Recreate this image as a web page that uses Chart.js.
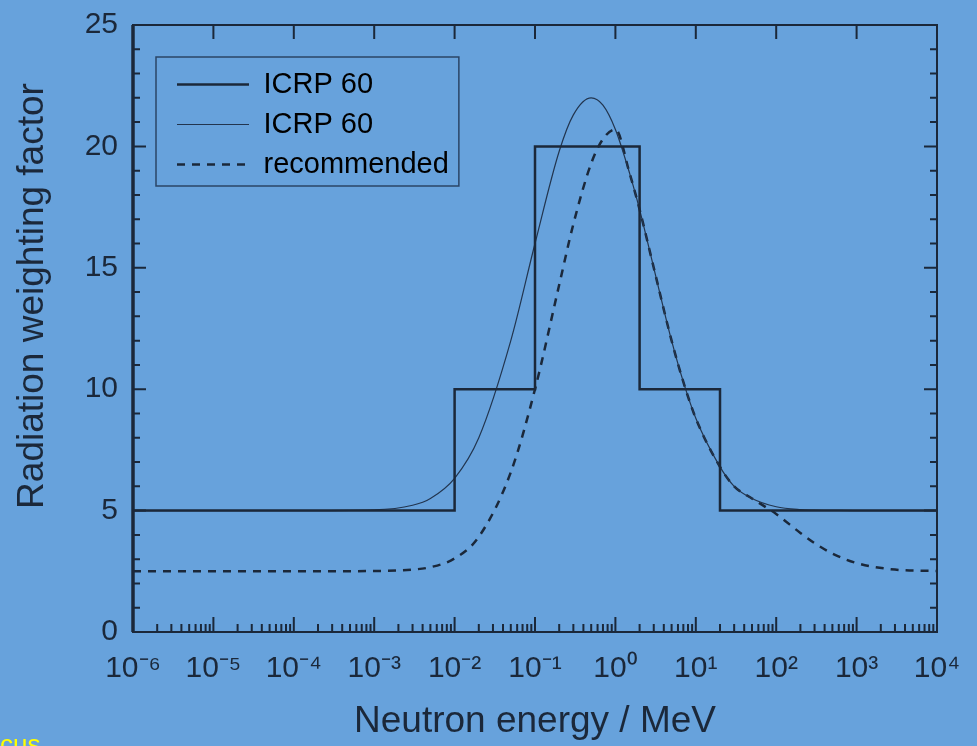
<!DOCTYPE html>
<html>
<head>
<meta charset="utf-8">
<title>Radiation weighting factor</title>
<script src="https://cdn.jsdelivr.net/npm/chart.js@4.4.1/dist/chart.umd.min.js"></script>
<style>
    html, body { margin: 0; padding: 0; overflow: hidden; background: #67a2dc; }
    #wrap { position: relative; width: 977px; height: 746px; }
    #note { position: absolute; left: 0; top: 731px; font: 26px "Liberation Sans", Arial, sans-serif; line-height: 26px; color: #ffff00; }
</style>
</head>
<body>
<div id="wrap">
    <canvas id="wrChart"></canvas>
    <div id="note">cus</div>
</div>
<script>
// axis ticks
const xTickValues = [1e-6, 1e-5, 1e-4, 1e-3, 1e-2, 1e-1, 1, 10, 100, 1000, 10000];
const xTickLabels = ['10⁻⁶', '10⁻⁵', '10⁻⁴', '10⁻³', '10⁻²', '10⁻¹', '10⁰', '10¹', '10²', '10³', '10⁴'];

// ICRP 60 step function (value holds until the next energy)
const stepEnergy = [1e-6, 1e-2, 1e-1, 2, 20, 1e4];
const stepFactor = [5, 10, 20, 10, 5, 5];

const curveEnergy = [1e-6, 1e-5, 1e-4, 1e-3, 3e-3, 5e-3, 1e-2, 2e-2, 5e-2, 0.1, 0.2, 0.3, 0.5, 0.7, 1,
    1.5, 2, 3, 5, 7, 10, 20, 30, 50, 100, 200, 300, 500, 1000, 3000, 10000];
const icrpCurve = [5, 5, 5, 5.03, 5.22, 5.5, 6.33, 8.0, 12.0, 16.0, 19.8, 21.3, 22.0, 21.7, 20.7,
    18.9, 17.4, 15.0, 12.0, 10.3, 8.8, 6.8, 6.0, 5.5, 5.16, 5.04, 5.02, 5.01, 5, 5, 5];
const recommended = [2.5, 2.5, 2.5, 2.51, 2.57, 2.67, 3.03, 3.92, 6.58, 10.0, 14.3, 16.8, 19.3, 20.3, 20.7,
    18.9, 17.4, 15.0, 12.0, 10.3, 8.8, 6.8, 6.0, 5.5, 4.86, 4.08, 3.66, 3.23, 2.84, 2.57, 2.51];

const ink = '#1b283a';
const fontFamily = '"Liberation Sans", Arial, sans-serif';

function toPoints(xs, ys) {
    return xs.map((x, i) => ({ x: x, y: ys[i] }));
}

// frame with inward ticks on all four sides
const frameTicks = {
    id: 'frameTicks',
    afterDatasetsDraw(chart) {
        const { ctx, chartArea: a, scales: { x, y } } = chart;
        ctx.save();
        ctx.strokeStyle = ink;
        ctx.lineWidth = 2;
        ctx.strokeRect(a.left, a.top, a.right - a.left, a.bottom - a.top);
        ctx.lineWidth = 3.5;
        ctx.beginPath();
        ctx.moveTo(a.left, a.top);
        ctx.lineTo(a.left, a.bottom);
        ctx.stroke();

        ctx.lineWidth = 2;
        ctx.beginPath();
        for (let v = y.min; v <= y.max; v++) {
            const py = y.getPixelForValue(v);
            const len = v % 5 === 0 ? 13 : 7;
            ctx.moveTo(a.left, py);
            ctx.lineTo(a.left + len, py);
            ctx.moveTo(a.right, py);
            ctx.lineTo(a.right - len, py);
        }
        xTickValues.forEach((v, i) => {
            const px = x.getPixelForValue(v);
            ctx.moveTo(px, a.bottom);
            ctx.lineTo(px, a.bottom - 15);
            ctx.moveTo(px, a.top);
            ctx.lineTo(px, a.top + 14);
            if (i < xTickValues.length - 1) {
                for (let k = 2; k <= 9; k++) {
                    const mx = x.getPixelForValue(v * k);
                    ctx.moveTo(mx, a.bottom);
                    ctx.lineTo(mx, a.bottom - 8);
                }
            }
        });
        ctx.stroke();

        // y axis title
        ctx.translate(33, 296);
        ctx.rotate(-Math.PI / 2);
        ctx.fillStyle = ink;
        ctx.font = '37px ' + fontFamily;
        ctx.textAlign = 'center';
        ctx.textBaseline = 'middle';
        ctx.fillText('Radiation weighting factor', 0, 0);
        ctx.restore();
    }
};

// move the legend into the upper left corner and put a box round it
const legendBox = {
    id: 'legendBox',
    afterLayout(chart) {
        chart.legend.left = chart.chartArea.left + 33;
        chart.legend.top = chart.chartArea.top + 34;
    },
    afterDraw(chart) {
        const boxes = chart.legend.legendHitBoxes;
        if (!boxes || !boxes.length) return;
        const left = Math.min(...boxes.map(b => b.left)) - 21;
        const right = Math.max(...boxes.map(b => b.left + b.width)) + 10;
        const top = boxes[0].top - 13;
        const last = boxes[boxes.length - 1];
        const bottom = last.top + last.height + 7;
        const ctx = chart.ctx;
        ctx.save();
        ctx.strokeStyle = 'rgba(27, 45, 72, 0.8)';
        ctx.lineWidth = 1.5;
        ctx.strokeRect(left, top, right - left, bottom - top);
        ctx.restore();
    }
};

const chart = new Chart(document.getElementById('wrChart'), {
    type: 'line',
    data: {
        datasets: [
            {
                label: 'ICRP 60',
                data: toPoints(stepEnergy, stepFactor),
                stepped: 'before',
                borderColor: ink,
                borderWidth: 2.5,
                pointRadius: 0
            },
            {
                label: 'ICRP 60',
                data: toPoints(curveEnergy, icrpCurve),
                cubicInterpolationMode: 'monotone',
                borderColor: '#22354f',
                borderWidth: 1.2,
                pointRadius: 0
            },
            {
                label: 'recommended',
                data: toPoints(curveEnergy, recommended),
                cubicInterpolationMode: 'monotone',
                borderColor: ink,
                borderWidth: 2.5,
                borderDash: [8, 7],
                pointRadius: 0
            }
        ]
    },
    options: {
        responsive: true,
        maintainAspectRatio: false,
        animation: false,
        layout: { padding: { top: 25, right: 40, left: 0, bottom: 0 } },
        plugins: {
            tooltip: { enabled: false },
            legend: {
                position: 'chartArea',
                align: 'start',
                labels: {
                    usePointStyle: true,
                    pointStyleWidth: 72,
                    padding: 11,
                    color: ink,
                    font: { family: fontFamily, size: 29 },
                    generateLabels: c => c.data.datasets.map((ds, i) => ({
                        text: ds.label,
                        datasetIndex: i,
                        pointStyle: 'line',
                        strokeStyle: ds.borderColor,
                        fillStyle: ds.borderColor,
                        lineWidth: ds.borderWidth,
                        lineDash: ds.borderDash || [],
                        hidden: false
                    }))
                }
            }
        },
        scales: {
            x: {
                type: 'logarithmic',
                position: 'bottom',
                min: 1e-6,
                max: 1e4,
                grid: { display: false, drawTicks: false },
                border: { display: false },
                afterBuildTicks: scale => {
                    scale.ticks = xTickValues.map(v => ({ value: v }));
                },
                afterFit: scale => {
                    scale.height = 114;
                    scale.paddingLeft = 0;
                    scale.paddingRight = 0;
                },
                ticks: {
                    autoSkip: false,
                    maxRotation: 0,
                    padding: 19,
                    color: ink,
                    font: { family: fontFamily, size: 30 },
                    callback: (value, index) => xTickLabels[index]
                },
                title: {
                    display: true,
                    text: 'Neutron energy / MeV',
                    color: ink,
                    font: { family: fontFamily, size: 37 },
                    padding: { top: 0, bottom: 2 }
                }
            },
            y: {
                min: 0,
                max: 25,
                grid: { display: false, drawTicks: false },
                border: { display: false },
                afterFit: scale => {
                    scale.width = 133;
                    scale.paddingTop = 0;
                    scale.paddingBottom = 0;
                },
                ticks: {
                    stepSize: 5,
                    padding: 15,
                    color: ink,
                    font: { family: fontFamily, size: 30 }
                }
            }
        }
    },
    plugins: [frameTicks, legendBox]
});
</script>
</body>
</html>
